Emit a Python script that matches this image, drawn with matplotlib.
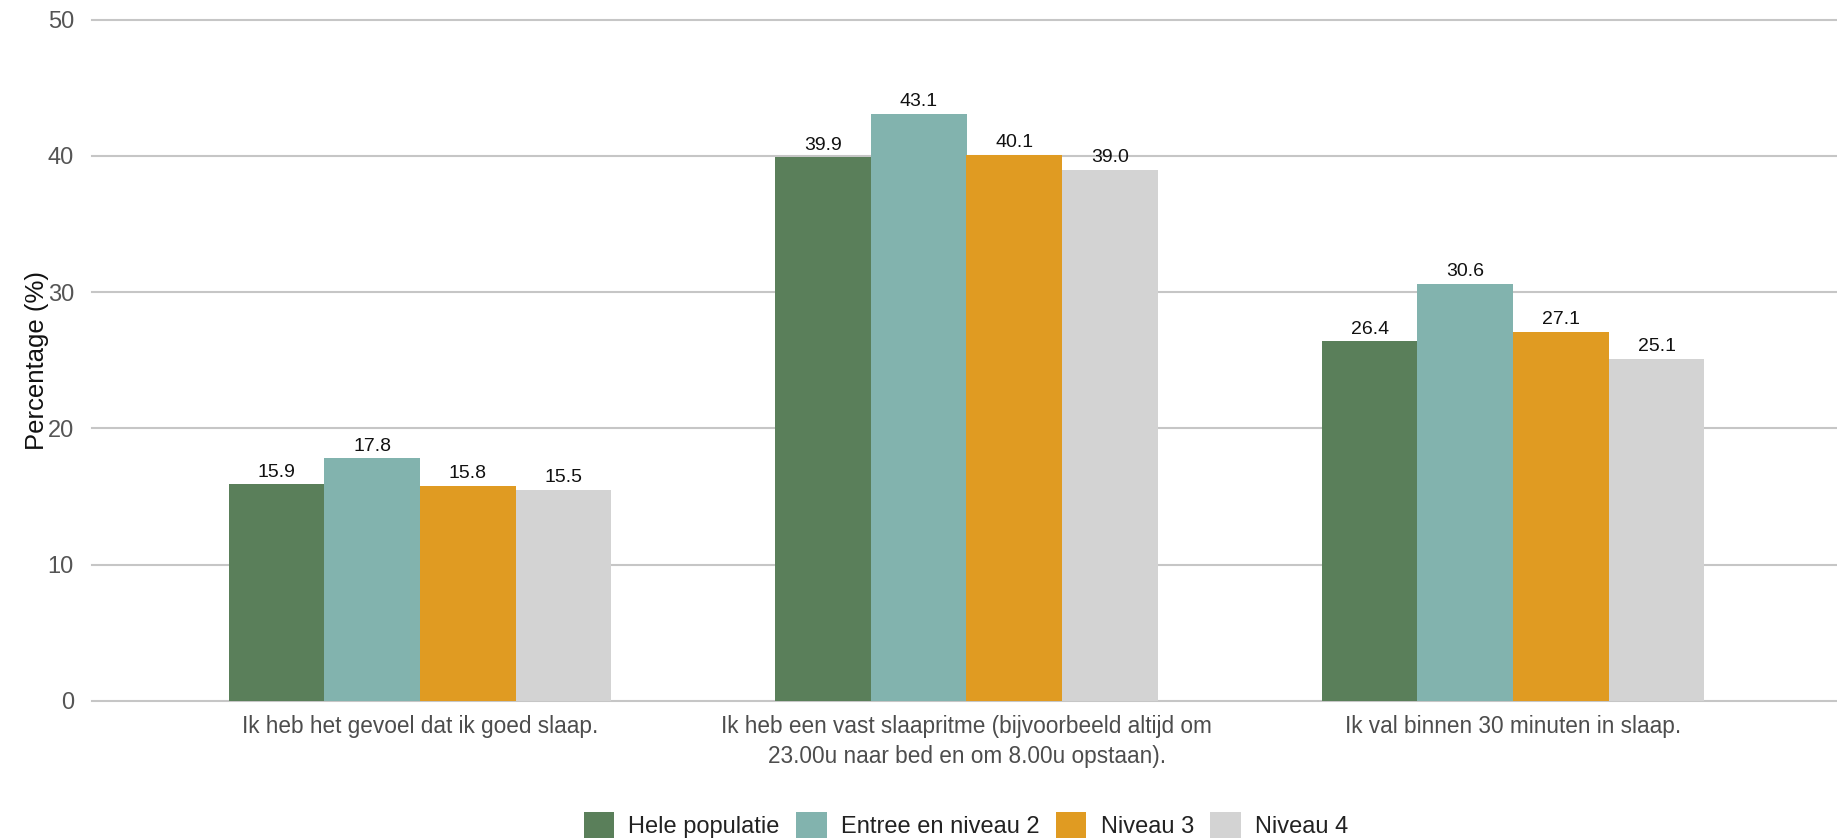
import matplotlib
matplotlib.use("Agg")
import matplotlib.pyplot as plt
from matplotlib import font_manager
from matplotlib.patches import Patch
import numpy as np

categories = [
    "Ik heb het gevoel dat ik goed slaap.",
    "Ik heb een vast slaapritme (bijvoorbeeld altijd om\n23.00u naar bed en om 8.00u opstaan).",
    "Ik val binnen 30 minuten in slaap.",
]
series_names = ["Hele populatie", "Entree en niveau 2", "Niveau 3", "Niveau 4"]
hele_populatie = [15.9, 39.9, 26.4]
entree_niveau2 = [17.8, 43.1, 30.6]
niveau3 = [15.8, 40.1, 27.1]
niveau4 = [15.5, 39.0, 25.1]
y_ticks = [0, 10, 20, 30, 40, 50]
y_label = "Percentage (%)"

colors = ["#5a7f5a", "#82b3ae", "#e09b22", "#d3d3d3"]


def pick_font(names):
    for n in names:
        try:
            font_manager.findfont(n, fallback_to_default=False)
            return n
        except Exception:
            continue
    return "DejaVu Sans"


base_font = pick_font(["Liberation Sans", "Arial", "DejaVu Sans"])
plt.rcParams["font.family"] = base_font

W, H = 1837, 840
fig = plt.figure(figsize=(W / 100, H / 100), dpi=100)

# axes placement in pixel space
x_left_px, x_right_px = 92, 1841
y_top_val = 51
y50_px, y0_px = 19.7, 700.7
px_per_unit = (y0_px - y50_px) / 50
top_px = y50_px - (y_top_val - 50) * px_per_unit
bot_px = y0_px
ax = fig.add_axes([x_left_px / W, 1 - bot_px / H,
                   (x_right_px - x_left_px) / W, (bot_px - top_px) / H])

series = [hele_populatie, entree_niveau2, niveau3, niveau4]
x = np.arange(len(categories))
bar_w = 0.175
offsets = (np.arange(len(series)) - 1.5) * bar_w

for vals, off, col, name in zip(series, offsets, colors, series_names):
    bars = ax.bar(x + off, vals, width=bar_w, color=col, label=name,
                  zorder=3, linewidth=0)
    for b, v in zip(bars, vals):
        ax.annotate(f"{v:.1f}", (b.get_x() + b.get_width() / 2, v),
                    xytext=(0, 2.5), textcoords="offset points",
                    ha="center", va="bottom", fontsize=14, color="#111111",
                    zorder=4)

ax.set_xlim(-0.6, 2.6)
ax.set_ylim(0, y_top_val)
ax.set_yticks(y_ticks)
ax.set_yticklabels([str(t) for t in y_ticks])
for t in y_ticks:
    ax.axhline(t, color="#c6c6c6", linewidth=1.5, zorder=1, clip_on=False)

ax.set_xticks(x)
ax.set_xticklabels(categories, fontsize=16.3, color="#4d4d4d",
                   linespacing=1.4)
ax.tick_params(axis="x", length=0, pad=10)
ax.tick_params(axis="y", length=0, pad=13, labelsize=17, labelcolor="#555555")

for s in ax.spines.values():
    s.set_visible(False)

fig.text(37 / W, 1 - 360 / H, y_label, rotation=90, ha="center", va="center",
         fontsize=18.5, color="#111111")

handles = [Patch(facecolor=c, edgecolor="none", label=n)
           for c, n in zip(colors, series_names)]
fig.legend(handles=handles, loc="center", bbox_to_anchor=(966 / W, 1 - 825 / H),
           ncol=4, frameon=False, prop={"size": 17},
           handlelength=1.29, handleheight=1.29, handletextpad=0.6,
           columnspacing=0.7, labelcolor="#222222", borderpad=0)

fig.savefig("out.png", dpi=100, facecolor="white")
